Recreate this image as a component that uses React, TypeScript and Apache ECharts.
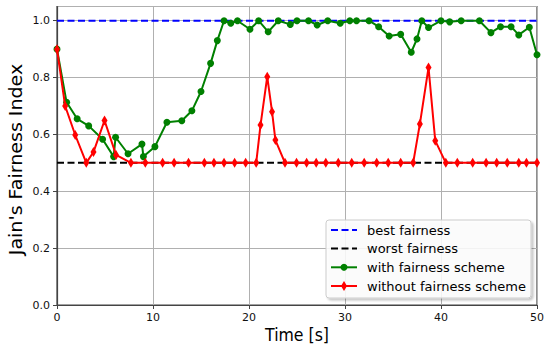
import React, { useEffect, useRef } from "react";
import * as echarts from "echarts";

const greenT = [0, 1, 2.1, 3.3, 4.75, 5.9, 6.1, 7.4, 8.85, 9.0, 10.2, 11.45, 13.0, 14.05, 15.0, 16.0, 16.7, 17.4, 18.1, 18.8, 20.1, 21.0, 22.0, 23.05, 24.3, 25.0, 26.2, 27.1, 28.2, 29.5, 30.5, 31.2, 32.5, 33.5, 34.6, 35.8, 36.9, 37.5, 38.0, 38.7, 40.0, 40.9, 42.1, 44.0, 45.2, 46.2, 47.3, 48.1, 49.2, 50.0];
const greenV = [0.9, 0.713, 0.655, 0.63, 0.583, 0.522, 0.59, 0.532, 0.566, 0.522, 0.557, 0.643, 0.648, 0.683, 0.751, 0.85, 0.93, 1.0, 0.991, 1.0, 0.97, 1.0, 0.961, 1.0, 0.987, 1.0, 1.0, 0.985, 1.0, 0.991, 1.0, 1.0, 1.0, 0.979, 0.946, 0.952, 0.889, 0.936, 1.0, 0.976, 1.0, 0.996, 1.0, 1.0, 0.958, 0.979, 0.979, 0.95, 0.977, 0.88];

const redT = [0, 0.85, 1.9, 3.05, 3.8, 4.95, 6.15, 7.7, 9.2, 11.0, 12.2, 13.7, 15.35, 16.35, 17.4, 18.5, 19.65, 20.75, 21.2, 21.9, 22.4, 22.75, 23.75, 24.95, 26.0, 27.0, 28.0, 29.3, 30.7, 32.0, 33.3, 34.5, 35.8, 37.1, 37.8, 38.7, 39.4, 40.5, 41.7, 43.3, 44.7, 45.8, 46.9, 48.1, 48.9, 50.0];
const redV = [0.9, 0.7, 0.598, 0.5, 0.538, 0.649, 0.528, 0.5, 0.5, 0.5, 0.5, 0.5, 0.5, 0.5, 0.5, 0.5, 0.5, 0.5, 0.633, 0.803, 0.68, 0.58, 0.5, 0.5, 0.5, 0.5, 0.5, 0.5, 0.5, 0.5, 0.5, 0.5, 0.5, 0.5, 0.637, 0.835, 0.578, 0.5, 0.5, 0.5, 0.5, 0.5, 0.5, 0.5, 0.5, 0.5];

const bestLine = [[0, 1.0], [50, 1.0]];
const worstLine = [[0, 0.5], [50, 0.5]];

const legendLabels = ["best fairness", "worst fairness", "with fairness scheme", "without fairness scheme"];
const xTitle = "Time [s]";
const yTitle = "Jain's Fairness Index";

const FONT = "DejaVu Sans";

export default function App() {
  const ref = useRef<HTMLDivElement>(null);
  useEffect(() => {
    if (!ref.current) return;
    const chart = echarts.init(ref.current, undefined, { renderer: "svg" });
    const greenData = greenT.map((t, i) => [t, greenV[i]]);
    const redData = redT.map((t, i) => [t, redV[i]]);
    const legendY = [230, 248.5, 267.3, 286];
    const lx0 = 331, lx1 = 357, tx = 367;
    const legendGraphics: any[] = [
      {
        type: "rect",
        shape: { x: 326, y: 220, width: 205, height: 78, r: 3 },
        style: { fill: "rgba(255,255,255,0.85)", stroke: "#cccccc", lineWidth: 1, shadowBlur: 2, shadowOffsetX: 2, shadowOffsetY: 2, shadowColor: "rgba(0,0,0,0.25)" },
        z: 100,
      },
      { type: "line", shape: { x1: lx0, y1: legendY[0], x2: lx1, y2: legendY[0] }, style: { stroke: "#0000ff", lineWidth: 2, lineDash: [7, 3.5] }, z: 101 },
      { type: "line", shape: { x1: lx0, y1: legendY[1], x2: lx1, y2: legendY[1] }, style: { stroke: "#000000", lineWidth: 2, lineDash: [7, 3.5] }, z: 101 },
      { type: "line", shape: { x1: lx0, y1: legendY[2], x2: lx1, y2: legendY[2] }, style: { stroke: "#008000", lineWidth: 2 }, z: 101 },
      { type: "circle", shape: { cx: (lx0 + lx1) / 2, cy: legendY[2], r: 3.5 }, style: { fill: "#008000" }, z: 102 },
      { type: "line", shape: { x1: lx0, y1: legendY[3], x2: lx1, y2: legendY[3] }, style: { stroke: "#ff0000", lineWidth: 2 }, z: 101 },
      { type: "polygon", shape: { points: [[344, legendY[3] - 5], [347, legendY[3]], [344, legendY[3] + 5], [341, legendY[3]]] }, style: { fill: "#ff0000" }, z: 102 },
    ];
    legendLabels.forEach((s, i) => {
      legendGraphics.push({
        type: "text",
        x: tx,
        y: legendY[i],
        style: { text: s, font: `13px ${FONT}`, fill: "#000", textAlign: "left", textVerticalAlign: "middle" },
        z: 102,
      });
    });

    chart.setOption({
      animation: false,
      backgroundColor: "#ffffff",
      grid: { left: 57, right: 13, top: 6.5, bottom: 43, show: true, borderColor: "#444", borderWidth: 1.2, containLabel: false },
      xAxis: {
        type: "value",
        min: 0,
        max: 50,
        interval: 10,
        axisLine: { show: true, onZero: false, lineStyle: { color: "#444", width: 1.2 } },
        axisTick: { show: true, length: 4, lineStyle: { color: "#444" } },
        axisLabel: { color: "#111", fontFamily: FONT, fontSize: 11, margin: 7 },
        splitLine: { show: true, lineStyle: { color: "#b0b0b0", width: 1 } },
      },
      yAxis: {
        type: "value",
        min: 0,
        max: 1.05,
        interval: 0.2,
        axisLine: { show: true, onZero: false, lineStyle: { color: "#444", width: 1.2 } },
        axisTick: { show: true, length: 4, lineStyle: { color: "#444" } },
        axisLabel: { color: "#111", fontFamily: FONT, fontSize: 11, margin: 7, showMaxLabel: false, formatter: (v: number) => (v > 1.01 ? "" : v.toFixed(1)) },
        splitLine: { show: true, lineStyle: { color: "#b0b0b0", width: 1 } },
      },
      series: [
        { type: "line", data: bestLine, symbol: "none", lineStyle: { color: "#0000ff", width: 2, type: [7, 3.5] }, z: 2 },
        { type: "line", data: worstLine, symbol: "none", lineStyle: { color: "#000000", width: 2, type: [7, 3.5] }, z: 3 },
        { type: "line", data: greenData, symbol: "circle", symbolSize: 7, showAllSymbol: true, itemStyle: { color: "#008000" }, lineStyle: { color: "#008000", width: 2 }, z: 4 },
        { type: "line", data: redData, symbol: "diamond", symbolSize: [6, 10], showAllSymbol: true, itemStyle: { color: "#ff0000" }, lineStyle: { color: "#ff0000", width: 2 }, z: 5 },
      ],
      graphic: [
        { type: "text", x: 297, y: 335, scaleX: 0.9, style: { text: xTitle, font: `17.5px ${FONT}`, fill: "#000", textAlign: "center", textVerticalAlign: "middle" } },
        { type: "text", x: 16, y: 159.5, rotation: Math.PI / 2, scaleX: 1.12, style: { text: yTitle, font: `17px ${FONT}`, fill: "#000", textAlign: "center", textVerticalAlign: "middle" } },
        ...legendGraphics,
      ],
    });
    return () => chart.dispose();
  }, []);
  return <div ref={ref} style={{ width: 550, height: 348, position: "absolute", left: 0, top: 0 }} />;
}
